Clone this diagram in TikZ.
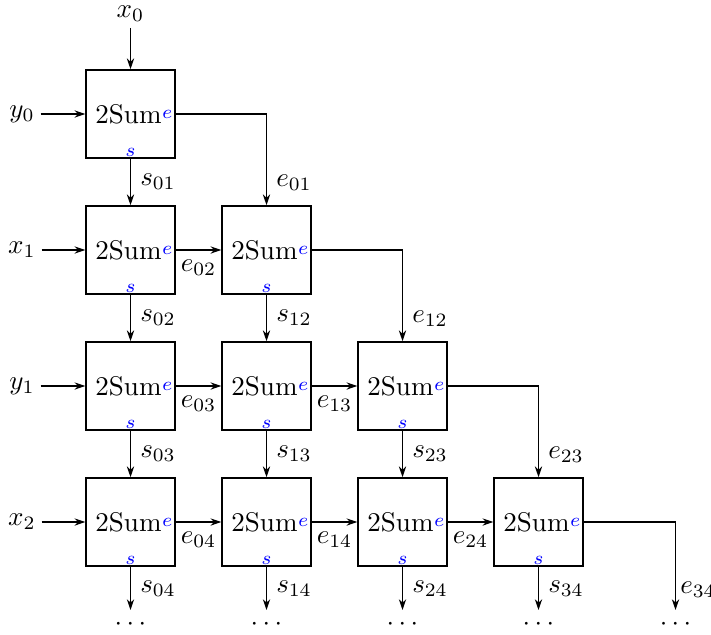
\documentclass[tikz,border=0pt]{standalone}
\usetikzlibrary{arrows.meta}
\begin{document}
\begin{tikzpicture}[x=0.37pt,y=-0.37pt,
  sumbox/.style={draw, line width=0.55pt, minimum width=32.9pt, minimum height=32.6pt, inner sep=0pt,
    label={[blue,font=\scriptsize,anchor=east,inner sep=1pt]east:$e$},
    label={[blue,font=\scriptsize,anchor=south,inner sep=0.8pt]south:$s$}},
  arr/.style={-{Stealth[length=4pt,width=2.7pt]}, line width=0.55pt},
  innode/.style={inner sep=2pt}]
\useasboundingbox (0,0) rectangle (711,634);
% boxes
\foreach \r in {0,...,3}
  \foreach \c in {0,...,\r}
    \node[sumbox] (b\c\r) at ({130.5+136*\c},{114+136*\r}) {2Sum\hspace*{1.5pt}};
% inputs
\node[innode] (x0) at (130.5,14) {$x_0$};
\node[innode] (y0) at (22,114) {$y_0$};
\node[innode] (x1) at (22,250) {$x_1$};
\node[innode] (y1) at (22,386) {$y_1$};
\node[innode] (x2) at (22,522) {$x_2$};
\draw[arr] (x0) -- (b00);
\draw[arr] (y0) -- (b00);
\draw[arr] (x1) -- (b01);
\draw[arr] (y1) -- (b02);
\draw[arr] (x2) -- (b03);
% internal connections
\foreach \r in {0,...,2}{
  \pgfmathtruncatemacro\k{\r+1}
  \foreach \c in {0,...,\r}{
    \draw[arr] (b\c\r) -- node[right] {$s_{\c\k}$} (b\c\k);
  }
  \draw[arr] (b\r\r.east) -| node[pos=0.875,right] {$e_{\r\k}$} (b\k\k);
}
% horizontal e connections
\foreach \r in {1,...,3}{
  \pgfmathtruncatemacro\k{\r+1}
  \pgfmathtruncatemacro\last{\r-1}
  \foreach \c in {0,...,\last}{
    \pgfmathtruncatemacro\n{\c+1}
    \draw[arr] (b\c\r.east) -- node[below] {$e_{\c\k}$} (b\n\r.west);
  }
}
% bottom outputs
\foreach \c in {0,...,3}{
  \coordinate (end\c) at ({130.5+136*\c},610);
  \node (dots\c) at ({130.5+136*\c},624) {$\cdots$};
  \draw[arr] (b\c3) -- node[right] {$s_{\c4}$} (end\c);
}
\coordinate (end4) at (675.5,610);
\node (dots4) at (675.5,624) {$\cdots$};
\draw[arr] (b33.east) -| node[pos=0.885,right,inner sep=1.5pt] {$e_{34}$} (end4);
\end{tikzpicture}
\end{document}
